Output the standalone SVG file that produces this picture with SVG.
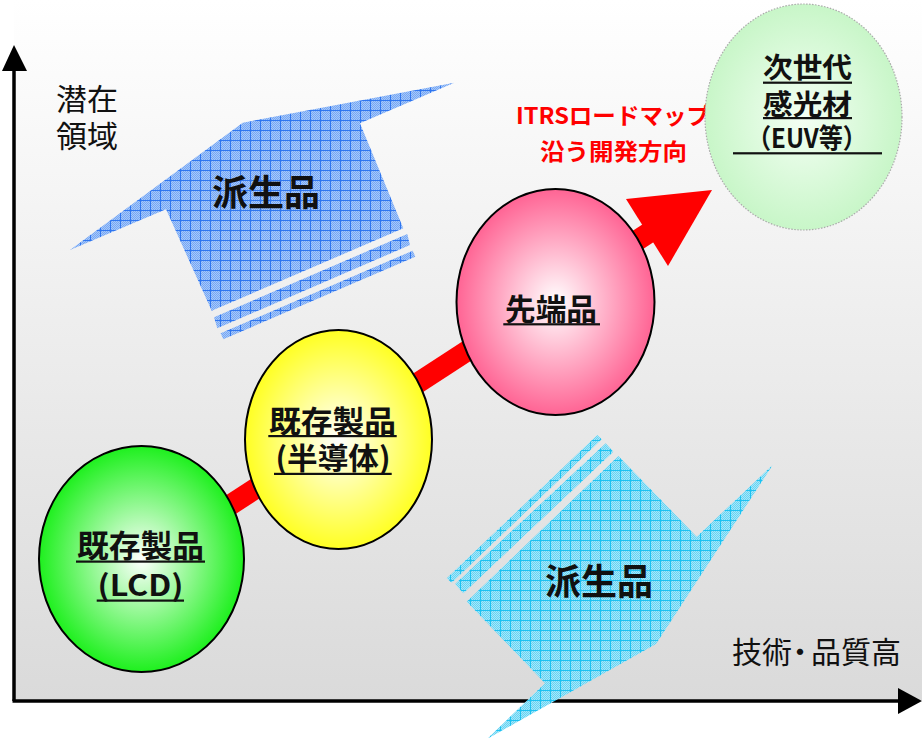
<svg xmlns="http://www.w3.org/2000/svg" width="922" height="738" viewBox="0 0 922 738">
<style>
.ax{font-family:"Noto Sans CJK JP","Noto Sans",sans-serif;font-size:30px;fill:#111}
.lb{font-family:"Noto Sans CJK JP","Noto Sans",sans-serif;font-weight:bold;fill:#111;text-anchor:middle}
.rd{font-family:"Noto Sans CJK JP","Noto Sans",sans-serif;font-weight:bold;fill:#ff0000;text-anchor:middle;font-size:23px}
.ul{fill:#111}
.circ{stroke:#000;stroke-width:2}
</style>
<defs>
<linearGradient id="bg" x1="0" y1="0" x2="0" y2="1">
<stop offset="0" stop-color="#ffffff"/>
<stop offset="1" stop-color="#dadada"/>
</linearGradient>
<radialGradient id="gGreen"><stop offset="0" stop-color="#ffffff"/><stop offset="1" stop-color="#1ef01e"/></radialGradient>
<radialGradient id="gYellow"><stop offset="0" stop-color="#ffffff"/><stop offset="1" stop-color="#ffff22"/></radialGradient>
<radialGradient id="gPink"><stop offset="0" stop-color="#ffffff"/><stop offset="1" stop-color="#ff6494"/></radialGradient>
<radialGradient id="gLight"><stop offset="0" stop-color="#f4fff4"/><stop offset="1" stop-color="#c8f6c8"/></radialGradient>
<pattern id="dB" patternUnits="userSpaceOnUse" width="2" height="2">
<rect width="2" height="2" fill="#a6c8fa"/><rect width="1" height="1" fill="#76a6f3"/><rect x="1" y="1" width="1" height="1" fill="#76a6f3"/>
</pattern>
<pattern id="gridB" patternUnits="userSpaceOnUse" width="10" height="10">
<rect width="10" height="10" fill="url(#dB)"/>
<path d="M0 0.5H10M0.5 0V10" stroke="#2f76f0" stroke-width="1"/>
</pattern>
<pattern id="dC" patternUnits="userSpaceOnUse" width="2" height="2">
<rect width="2" height="2" fill="#a6e8f9"/><rect width="1" height="1" fill="#66d2f3"/><rect x="1" y="1" width="1" height="1" fill="#66d2f3"/>
</pattern>
<pattern id="gridC" patternUnits="userSpaceOnUse" width="10" height="10">
<rect width="10" height="10" fill="url(#dC)"/>
<path d="M0 0.5H10M0.5 0V10" stroke="#1cc2f2" stroke-width="1"/>
</pattern>
</defs>

<rect x="0" y="0" width="922" height="738" fill="#ffffff"/>
<rect x="14" y="0" width="908" height="700" fill="url(#bg)"/>

<g id="axes">
<line x1="14" y1="701" x2="14" y2="68" stroke="#000" stroke-width="3.5"/>
<polygon points="14,45 2,71 27,71" fill="#000"/>
<line x1="12.5" y1="701" x2="900" y2="701" stroke="#000" stroke-width="3.5"/>
<polygon points="922,701 898,688 898,714" fill="#000"/>
<text class="ax" x="56" y="110" font-size="29" textLength="62" lengthAdjust="spacingAndGlyphs">潜在</text>
<text class="ax" x="56" y="147" font-size="29" textLength="62" lengthAdjust="spacingAndGlyphs">領域</text>
<text class="ax" x="732" y="663" font-size="30" dx="0 0 -7 -4 0 0">技術・品質高</text>
</g>

<g id="derived-up">
<polygon points="70,250 242.7,122.7 454.3,82.7 360,123.3 403.3,228.3 211.7,310.7 166,209.3" fill="url(#gridB)"/>
<polygon points="214,317.3 407.3,234 410,245 217.3,328.3" fill="url(#gridB)"/>
<polygon points="220.7,333.3 412.7,250.7 415.3,256.7 223.3,339.3" fill="url(#gridB)"/>
<text class="lb" x="266" y="206" font-size="36" textLength="108" lengthAdjust="spacingAndGlyphs">派生品</text>
</g>

<g id="derived-down">
<polygon points="618.3,456 696.7,536.7 772.7,465 656,644 487,739 545,683.3 466.7,601.7" fill="url(#gridC)"/>
<polygon points="455,584 605.7,443.3 613.3,451.7 463.3,593.3" fill="url(#gridC)"/>
<polygon points="446.7,578.3 597.3,435 601.7,439.3 451.7,582.7" fill="url(#gridC)"/>
<text class="lb" x="599" y="595" font-size="36" textLength="108" lengthAdjust="spacingAndGlyphs">派生品</text>
</g>

<g id="connectors">
<line x1="141" y1="563" x2="650" y2="232" stroke="#ff0000" stroke-width="21"/>
<polygon points="626,199 712,190 668,266" fill="#ff0000"/>
</g>

<g id="roadmap-label">
<text class="rd" x="613" y="124" textLength="194" lengthAdjust="spacingAndGlyphs">ITRSロードマップ</text>
<text class="rd" x="613.5" y="160" font-size="24" textLength="147" lengthAdjust="spacingAndGlyphs">沿う開発方向</text>
</g>

<g id="lcd">
<ellipse class="circ" cx="141.5" cy="559" rx="102.5" ry="113" fill="url(#gGreen)"/>
<text class="lb" x="140.5" y="557" font-size="31" textLength="127" lengthAdjust="spacingAndGlyphs">既存製品</text>
<rect class="ul" x="76" y="560.5" width="129" height="2.2"/>
<text class="lb" x="140.5" y="596" font-size="29" textLength="86" lengthAdjust="spacingAndGlyphs">(LCD)</text>
<rect class="ul" x="96.7" y="599.5" width="87.3" height="2.2"/>
</g>

<g id="semiconductor">
<ellipse class="circ" cx="338.5" cy="439.5" rx="93.5" ry="109.5" fill="url(#gYellow)"/>
<text class="lb" x="332.5" y="432" font-size="30" textLength="127" lengthAdjust="spacingAndGlyphs">既存製品</text>
<rect class="ul" x="268.3" y="435" width="128.4" height="2.2"/>
<text class="lb" x="333" y="469" font-size="30" textLength="115" lengthAdjust="spacingAndGlyphs">(半導体)</text>
<rect class="ul" x="274" y="472.8" width="117.7" height="2.2"/>
</g>

<g id="advanced">
<ellipse class="circ" cx="555.5" cy="302" rx="99" ry="113" fill="url(#gPink)"/>
<text class="lb" x="551" y="319.5" font-size="30" textLength="92" lengthAdjust="spacingAndGlyphs">先端品</text>
<rect class="ul" x="503.3" y="323.2" width="96.7" height="2.2"/>
</g>

<g id="next-gen">
<ellipse cx="803.5" cy="117" rx="98.5" ry="113" fill="url(#gLight)" stroke="#aaaaaa" stroke-width="1.2" stroke-dasharray="1.5 1.5"/>
<text class="lb" x="807.5" y="78" font-size="28" textLength="89" lengthAdjust="spacingAndGlyphs">次世代</text>
<rect class="ul" x="763" y="81.6" width="89" height="2.2"/>
<text class="lb" x="807.5" y="115" font-size="28" textLength="89" lengthAdjust="spacingAndGlyphs">感光材</text>
<rect class="ul" x="763" y="117" width="89" height="2.2"/>
<text class="lb" x="807" y="148" font-size="27" textLength="120" lengthAdjust="spacingAndGlyphs">（EUV等）</text>
<rect class="ul" x="733" y="152.2" width="149" height="2.2"/>
</g>
</svg>
